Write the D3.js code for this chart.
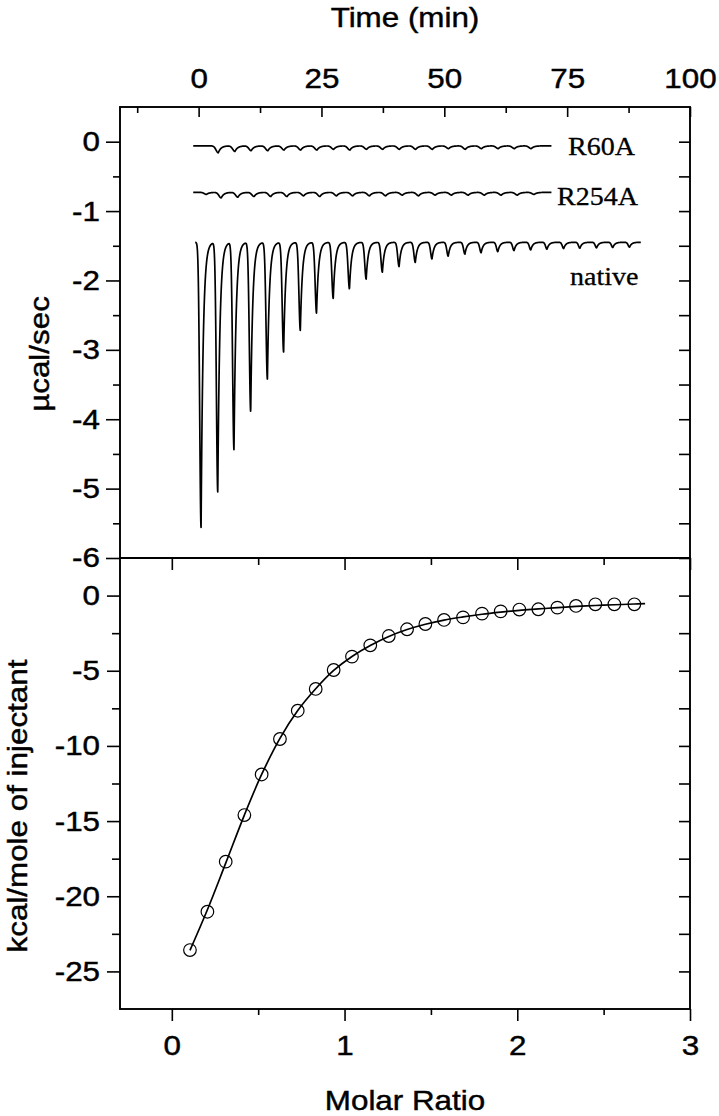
<!DOCTYPE html>
<html>
<head>
<meta charset="utf-8">
<script src="https://cdn.jsdelivr.net/npm/d3@7"></script>
<style>
  body { margin: 0; background: #fff; }
  text { fill: #000; }
</style>
</head>
<body>
<svg id="chart" width="719" height="1116"></svg>
<script>
/* ---------- DATA ---------- */

// native titration: time of each injection peak (min) and the peak minimum (µcal/sec)
const nativeTime = [0.5, 3.9, 7.2, 10.6, 14.0, 17.3, 20.7, 24.0, 27.4, 30.7, 34.1, 37.4, 40.8, 44.1,
  47.5, 50.8, 54.2, 57.5, 60.9, 64.2, 67.6, 70.9, 74.3, 77.6, 81.0, 84.3, 87.7];
const nativePeak = [-5.56, -5.05, -4.44, -3.89, -3.42, -3.03, -2.72, -2.47, -2.26, -2.12, -1.98, -1.88,
  -1.80, -1.74, -1.69, -1.65, -1.62, -1.60, -1.585, -1.57, -1.56, -1.55, -1.54, -1.535, -1.53, -1.525, -1.52];
const nativeBase = -1.45, nativeSpan = [-0.7, 90];

// mutants: small dips only
const r60aTime = [4.0, 7.4, 10.7, 14.1, 17.4, 20.8, 24.1, 27.5, 30.8, 34.2, 37.5, 40.9, 44.2, 47.6,
  50.9, 54.3, 57.6, 61.0, 64.3, 67.7];
const r60aDip = [0.10, 0.08, 0.07, 0.07, 0.06, 0.06, 0.06, 0.05, 0.06, 0.05, 0.05, 0.05, 0.05, 0.05,
  0.04, 0.05, 0.04, 0.04, 0.04, 0.04];
const r60aBase = -0.06, r60aSpan = [-1.1, 71.8];

const r254aTime = [1.6, 4.6, 8.0, 11.3, 14.7, 18.0, 21.4, 24.7, 28.1, 31.4, 34.8, 38.1, 41.5, 44.8,
  48.2, 51.5, 54.9, 58.2, 61.6, 64.9, 68.3];
const r254aDip = [0.03, 0.08, 0.07, 0.06, 0.06, 0.06, 0.05, 0.06, 0.05, 0.05, 0.05, 0.05, 0.04, 0.05,
  0.04, 0.04, 0.04, 0.04, 0.04, 0.04, 0.03];
const r254aBase = -0.73, r254aSpan = [-1.1, 71.8];

// integrated heats
const molarRatio = [0.105, 0.206, 0.312, 0.42, 0.52, 0.626, 0.729, 0.833, 0.937, 1.043, 1.149, 1.256,
  1.362, 1.468, 1.576, 1.686, 1.796, 1.904, 2.012, 2.122, 2.232, 2.34, 2.452, 2.562, 2.678];
const heat = [-23.58, -21.03, -17.7, -14.6, -11.9, -9.54, -7.66, -6.21, -4.95, -4.06, -3.31, -2.69,
  -2.24, -1.89, -1.62, -1.45, -1.2, -1.05, -0.93, -0.91, -0.80, -0.69, -0.58, -0.58, -0.58];

// fitted curve
const fitRatio = [0.105, 0.206, 0.312, 0.42, 0.52, 0.626, 0.729, 0.833, 0.937, 1.043, 1.149, 1.256,
  1.362, 1.468, 1.576, 1.686, 1.796, 1.904, 2.012, 2.122, 2.232, 2.34, 2.452, 2.562, 2.678, 2.74];
const fitHeat = [-23.6, -20.9, -17.8, -14.6, -11.9, -9.5, -7.65, -6.2, -4.98, -4.05, -3.32, -2.72,
  -2.26, -1.91, -1.63, -1.42, -1.24, -1.10, -0.98, -0.89, -0.80, -0.72, -0.66, -0.61, -0.56, -0.53];

// ticks
const timeTicks = [0, 25, 50, 75, 100];
const timeMinor = [-12.5, 12.5, 37.5, 62.5, 87.5];
const powerTicks = [0, -1, -2, -3, -4, -5, -6];
const powerMinor = [-0.5, -1.5, -2.5, -3.5, -4.5, -5.5];
const ratioTicks = [0, 1, 2, 3];
const ratioMinor = [0.5, 1.5, 2.5];
const heatTicks = [0, -5, -10, -15, -20, -25];
const heatMinor = [-2.5, -7.5, -12.5, -17.5, -22.5];

/* ---------- LAYOUT ---------- */
const pLeft = 120, pRight = 690, pTop = 107, pMid = 558, pBottom = 1009;
const sans = "Arial, 'Liberation Sans', sans-serif";
const serif = "'Times New Roman', 'Liberation Serif', serif";
const stretch = 1.12;
const plain = d => String(d);   // hyphen minus, as in the figure

const svg = d3.select("#chart");

const xTime = d3.scaleLinear().domain([-16, 100]).range([pLeft, pRight]);
const yPower = d3.scaleLinear().domain([-6, 0.5]).range([pMid, pTop]);
const xRatio = d3.scaleLinear().domain([-0.3, 3]).range([pLeft, pRight]);
const yHeat = d3.scaleLinear().domain([-27.5, 2.5]).range([pBottom, pMid]);

/* ---------- AXES ---------- */
function addAxis(axis, tx, ty) {
  const g = svg.append("g")
    .attr("transform", `translate(${tx},${ty})`)
    .call(axis);
  g.select(".domain").remove();
  g.selectAll("line").attr("stroke", "#000").attr("stroke-width", 1.6);
  g.selectAll("text").attr("class", "sans").attr("fill", "#000");
  return g;
}

// top panel
addAxis(d3.axisTop(xTime).tickValues(timeTicks).tickSizeInner(-10).tickSizeOuter(0).tickPadding(19).tickFormat(plain), 0, pTop);
addAxis(d3.axisTop(xTime).tickValues(timeMinor).tickSize(-6).tickFormat(""), 0, pTop);
addAxis(d3.axisLeft(yPower).tickValues(powerTicks).tickSize(14).tickPadding(6).tickFormat(plain), pLeft, 0);
addAxis(d3.axisLeft(yPower).tickValues(powerMinor).tickSize(7).tickFormat(""), pLeft, 0);
addAxis(d3.axisRight(yPower).tickValues(powerTicks.concat(powerMinor)).tickSize(-11).tickFormat(""), pRight, 0);

// bottom panel
addAxis(d3.axisBottom(xRatio).tickValues(ratioTicks).tickSize(12).tickFormat(""), 0, pMid);
addAxis(d3.axisBottom(xRatio).tickValues(ratioMinor).tickSize(7).tickFormat(""), 0, pMid);
addAxis(d3.axisBottom(xRatio).tickValues(ratioTicks).tickSize(12).tickPadding(14).tickFormat(plain), 0, pBottom);
addAxis(d3.axisBottom(xRatio).tickValues(ratioMinor).tickSize(6).tickFormat(""), 0, pBottom);
addAxis(d3.axisLeft(yHeat).tickValues(heatTicks).tickSize(13).tickPadding(7).tickFormat(plain), pLeft, 0);
addAxis(d3.axisLeft(yHeat).tickValues(heatMinor).tickSize(8).tickFormat(""), pLeft, 0);
addAxis(d3.axisRight(yHeat).tickValues(heatTicks.concat(heatMinor)).tickSize(-11).tickFormat(""), pRight, 0);

// frames
svg.append("rect").attr("x", pLeft).attr("y", pTop).attr("width", pRight - pLeft).attr("height", pMid - pTop)
  .attr("fill", "none").attr("stroke", "#000").attr("stroke-width", 1.9);
svg.append("rect").attr("x", pLeft).attr("y", pMid).attr("width", pRight - pLeft).attr("height", pBottom - pMid)
  .attr("fill", "none").attr("stroke", "#000").attr("stroke-width", 1.9);

// axis titles
svg.append("text").attr("class", "sans").attr("x", (pLeft + pRight) / 2).attr("y", 27)
  .attr("text-anchor", "middle").text("Time (min)");
svg.append("text").attr("class", "sans").attr("x", (pLeft + pRight) / 2).attr("y", 1110)
  .attr("text-anchor", "middle").text("Molar Ratio");
svg.append("text").attr("class", "sans").attr("transform", "translate(49,354) rotate(-90)")
  .attr("text-anchor", "middle").text("µcal/sec");
svg.append("text").attr("class", "sans").attr("transform", "translate(27,806) rotate(-90)")
  .attr("text-anchor", "middle").text("kcal/mole of injectant");
svg.selectAll(".sans")
  .style("font-family", sans).style("font-size", "28px")
  .attr("stroke", "#000").attr("stroke-width", 0.45);

/* ---------- RAW TRACES ---------- */
// each injection drawn as a sharp dip: quick fall, quick return to baseline
function trace(times, depths, base, span, sig, tau) {
  const pts = [];
  for (let t = span[0]; t <= span[1] + 1e-9; t += 0.03) {
    let v = base;
    times.forEach((t0, i) => {
      const dt = t - t0;
      if (dt < 0) v -= depths[i] * Math.exp(-0.5 * (dt / sig) * (dt / sig));
      else v -= depths[i] * Math.exp(-dt / tau);
    });
    pts.push([t, v]);
  }
  return pts;
}
const traceLine = d3.line().x(d => xTime(d[0])).y(d => yPower(d[1]));

const nativePts = trace(nativeTime, nativePeak.map(p => nativeBase - p), nativeBase, nativeSpan, 0.28, 0.42);
const r60aPts = trace(r60aTime, r60aDip, r60aBase, r60aSpan, 0.45, 0.55);
const r254aPts = trace(r254aTime, r254aDip, r254aBase, r254aSpan, 0.45, 0.55);

[nativePts, r60aPts, r254aPts].forEach(p => {
  svg.append("path").attr("d", traceLine(p)).attr("fill", "none")
    .attr("stroke", "#000").attr("stroke-width", 1.7).attr("stroke-linejoin", "round");
});

// trace labels
svg.append("text").attr("class", "lab").attr("x", 568).attr("y", 155).text("R60A");
svg.append("text").attr("class", "lab").attr("x", 557).attr("y", 205).text("R254A");
svg.append("text").attr("class", "lab").attr("x", 570).attr("y", 285).text("native");
svg.selectAll(".lab").style("font-family", serif).style("font-size", "25px")
  .attr("stroke", "#000").attr("stroke-width", 0.3);

/* ---------- ISOTHERM ---------- */
const fitLine = d3.line().x(d => xRatio(d[0])).y(d => yHeat(d[1])).curve(d3.curveCatmullRom);
svg.append("path").attr("d", fitLine(d3.zip(fitRatio, fitHeat)))
  .attr("fill", "none").attr("stroke", "#000").attr("stroke-width", 1.7);

svg.selectAll(".pt")
  .data(d3.zip(molarRatio, heat))
  .join("circle")
  .attr("class", "pt")
  .attr("cx", d => xRatio(d[0]))
  .attr("cy", d => yHeat(d[1]))
  .attr("r", 6.3)
  .attr("fill", "none")
  .attr("stroke", "#000")
  .attr("stroke-width", 1.2);

/* widen glyphs a little, the figure's type is slightly stretched */
svg.selectAll("text").each(function () {
  const len = this.getComputedTextLength();
  if (len > 0) d3.select(this).attr("textLength", len * stretch).attr("lengthAdjust", "spacingAndGlyphs");
});
</script>
</body>
</html>
